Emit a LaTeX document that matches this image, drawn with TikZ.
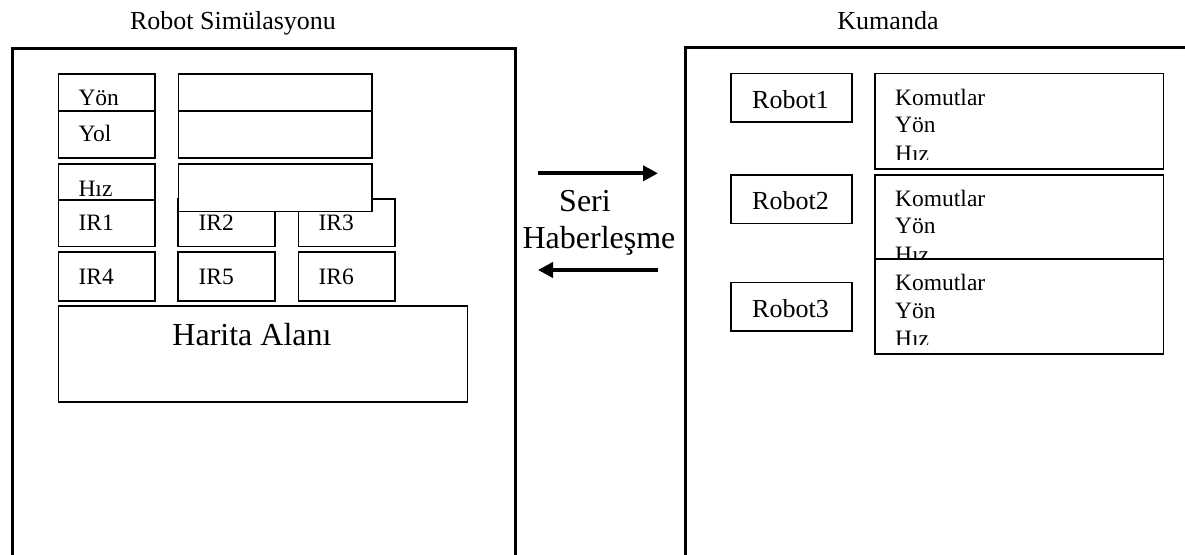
\documentclass[tikz,border=0pt]{standalone}
\usepackage{fontspec}
\setmainfont{Liberation Serif}
\usetikzlibrary{arrows.meta}

\begin{document}
\begin{tikzpicture}[x=1pt, y=-1pt,
	frame/.style={draw, line width=3pt, inner sep=0pt, anchor=north west},
	box/.style={draw, line width=1.6pt, fill=white, inner sep=0pt, anchor=north west},
	lbl/.style={anchor=base west, inner sep=0pt, font=\fontsize{23.5}{27}\selectfont},
	ttl/.style={anchor=base, inner sep=0pt, font=\fontsize{26}{30}\selectfont},
	big/.style={anchor=base, inner sep=0pt, font=\fontsize{32}{36}\selectfont},
	link/.style={line width=4.3pt, -{Triangle[length=15pt, width=15pt]}}]
\useasboundingbox (0, 0) rectangle (1185, 554);

% two windows
\node[ttl] (simtitle) at (233, 29.3) {Robot Simülasyonu};
\node[ttl] (cmdtitle) at (888, 29.3) {Kumanda};
\node[frame, minimum width=503pt, minimum height=560pt] (sim) at (11, 47) {};
\node[frame, minimum width=502pt, minimum height=560pt] (cmd) at (684, 46) {};

% left window
\node[box, minimum width=96.6pt, minimum height=36.7pt] (yon) at (57.7, 73.3) {};
\node[lbl] (yon-t) at ([shift={(20.6, 31.7)}]yon.north west) {Yön};
\node[box, minimum width=96.6pt, minimum height=47.3pt] (yol) at (57.7, 110) {};
\node[lbl] (yol-t) at ([shift={(20.6, 31.7)}]yol.north west) {Yol};
\node[box, minimum width=96.6pt, minimum height=47pt] (hiz) at (57.7, 163.3) {};
\node[lbl] (hiz-t) at ([shift={(20.6, 33.2)}]hiz.north west) {Hız};

\node[box, minimum width=96.6pt, minimum height=46.4pt] (ir1) at (57.7, 199.3) {};
\node[lbl] (ir1-t) at ([shift={(20.6, 31.4)}]ir1.north west) {IR1};
\node[box, minimum width=97pt, minimum height=47.4pt] (ir2) at (177.3, 198.3) {};
\node[lbl] (ir2-t) at ([shift={(21, 32.4)}]ir2.north west) {IR2};
\node[box, minimum width=96.3pt, minimum height=47.4pt] (ir3) at (297.7, 198.3) {};
\node[lbl] (ir3-t) at ([shift={(20.6, 32.4)}]ir3.north west) {IR3};
\node[box, minimum width=96.6pt, minimum height=49pt] (ir4) at (57.7, 251) {};
\node[lbl] (ir4-t) at ([shift={(20.6, 33)}]ir4.north west) {IR4};
\node[box, minimum width=97pt, minimum height=49pt] (ir5) at (177.3, 251) {};
\node[lbl] (ir5-t) at ([shift={(21, 33)}]ir5.north west) {IR5};
\node[box, minimum width=96.3pt, minimum height=49pt] (ir6) at (297.7, 251) {};
\node[lbl] (ir6-t) at ([shift={(20.6, 33)}]ir6.north west) {IR6};

\node[box, minimum width=193.3pt, minimum height=36.7pt] (val1) at (177.7, 73.3) {};
\node[box, minimum width=193.3pt, minimum height=47.3pt] (val2) at (177.7, 110) {};
\node[box, minimum width=193.3pt, minimum height=47.5pt] (val3) at (177.7, 163.3) {};

\node[box, minimum width=409pt, minimum height=96pt] (harita) at (57.7, 305) {};
\node[big] (harita-t) at (252, 345) {Harita Alanı};

% serial link
\coordinate (tx-a) at (538, 173.3);
\coordinate (tx-b) at (658, 173.3);
\coordinate (rx-a) at (658, 270);
\coordinate (rx-b) at (538, 270);
\draw[link] (tx-a) -- (tx-b);
\draw[link] (rx-a) -- (rx-b);
\node[big] (seri) at (585, 211.7) {Seri};
\node[big] (haber) at (599, 248.3) {Haberleşme};

% right window
\node[box, minimum width=121pt, minimum height=48.3pt] (robot1) at (730, 72.7) {};
\node[ttl] (robot1-t) at ([shift={(60.5, 35.6)}]robot1.north west) {Robot1};
\node[box, minimum width=121pt, minimum height=48.7pt] (robot2) at (730, 174) {};
\node[ttl] (robot2-t) at ([shift={(60.5, 35.6)}]robot2.north west) {Robot2};
\node[box, minimum width=121pt, minimum height=48.3pt] (robot3) at (730, 281.7) {};
\node[ttl] (robot3-t) at ([shift={(60.5, 35.3)}]robot3.north west) {Robot3};

\node[box, minimum width=288.4pt, minimum height=95.6pt] (cmd1) at (874.3, 72.7) {};
\begin{scope}
\clip (cmd1.north west) rectangle ([shift={(0, -10.5)}]cmd1.south east);
\node[lbl] (cmd1-a) at ([shift={(20.7, 32.3)}]cmd1.north west) {Komutlar};
\node[lbl] (cmd1-b) at ([shift={(0, 27.5)}]cmd1-a.base west) {Yön};
\node[lbl] (cmd1-c) at ([shift={(0, 28.5)}]cmd1-b.base west) {Hız};
\end{scope}
\node[box, minimum width=288.4pt, minimum height=95.6pt] (cmd2) at (874.3, 174) {};
\node[lbl] (cmd2-a) at ([shift={(20.7, 32.3)}]cmd2.north west) {Komutlar};
\node[lbl] (cmd2-b) at ([shift={(0, 27.5)}]cmd2-a.base west) {Yön};
\node[lbl] (cmd2-c) at ([shift={(0, 28.5)}]cmd2-b.base west) {Hız};
\node[box, minimum width=288.4pt, minimum height=95pt] (cmd3) at (874.3, 258.3) {};
\begin{scope}
\clip (cmd3.north west) rectangle ([shift={(0, -10.5)}]cmd3.south east);
\node[lbl] (cmd3-a) at ([shift={(20.7, 32.3)}]cmd3.north west) {Komutlar};
\node[lbl] (cmd3-b) at ([shift={(0, 27.5)}]cmd3-a.base west) {Yön};
\node[lbl] (cmd3-c) at ([shift={(0, 28.5)}]cmd3-b.base west) {Hız};
\end{scope}
\end{tikzpicture}
\end{document}
